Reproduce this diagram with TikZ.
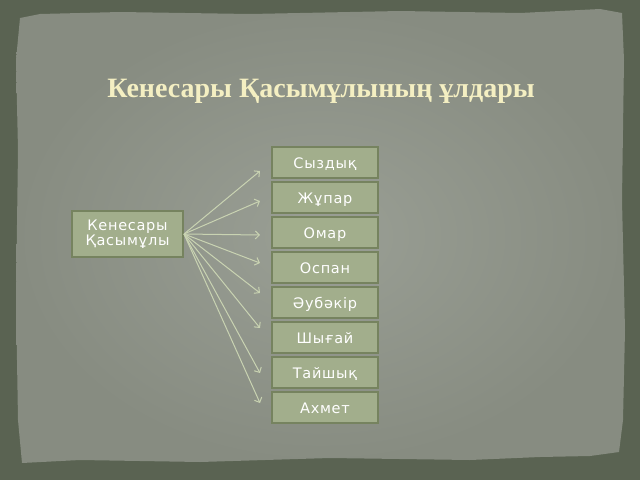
\documentclass[tikz,border=0pt]{standalone}
\usepackage{fontspec}
\setmainfont{Liberation Serif}
\newfontfamily\boxfont[LetterSpace=5]{DejaVu Sans}
\usetikzlibrary{arrows.meta,positioning}
\definecolor{frame color}{HTML}{5A6352}
\definecolor{paper inner color}{HTML}{9A9F95}
\definecolor{paper outer color}{HTML}{878C81}
\definecolor{son fill color}{HTML}{A2AE8C}
\definecolor{son border color}{HTML}{76835F}
\definecolor{link color}{HTML}{C9D3B2}
\definecolor{title color}{HTML}{F4EFC2}
\tikzset{
    x={1pt},
    y={-1pt},
    son/.style={
        draw=son border color,
        fill=son fill color,
        line width={2pt},
        minimum width={106},
        minimum height={31},
        inner sep=0pt,
        text height={15.5},
        text depth={3},
        text=white,
        font={\boxfont\fontsize{14.5}{15.5}\selectfont},
    },
    father/.style={
        son,
        text height={},
        text depth={},
        minimum width={111},
        minimum height={46},
        align=center,
    },
    link/.style={
        draw=link color,
        line width={1pt},
        -{Straight Barb[length=4pt,width=8pt]},
    },
    title/.style={
        font={\bfseries\fontsize{28}{32}\selectfont},
        text=title color,
        anchor=base,
    },
}

\begin{document}
\begin{tikzpicture}
\useasboundingbox (0,0) rectangle (640,480);
% background
\fill[frame color] (0,0) rectangle (640,480);
\shade[inner color=paper inner color, outer color=paper outer color] (20,18) -- (40,14) -- (120,12) -- (250,14) -- (400,11) -- (520,13) -- (600,9) -- (622,13) -- (624,60) -- (622,200) -- (625,330) -- (623,420) -- (619,452) -- (590,456) -- (540,457) -- (470,460) -- (330,458) -- (200,462) -- (80,460) -- (22,463) -- (18,420) -- (16,300) -- (18,150) -- (16,60) -- cycle;
% title
\node[title] (heading) at (321,97) {Кенесары Қасымұлының ұлдары};
% father
\node[father] (kenesary) at (127.5,234) {Кенесары\\Қасымұлы};
% sons
\foreach \sonname/\sontext/\tipy [count=\i from 0] in {
    syzdyk/Сыздық/171,
    zhupar/Жұпар/201,
    omar/Омар/235,
    ospan/Оспан/263,
    aubakir/Әубәкір/293,
    shygai/Шығай/328,
    taishyk/Тайшық/373,
    akhmet/Ахмет/403} {
    \node[son] (\sonname) at (325,{162+35*\i}) {\sontext};
    \coordinate (\sonname tip) at (260,\tipy);
    \draw[link] (kenesary.east) -- (\sonname tip);
}
\end{tikzpicture}
\end{document}
